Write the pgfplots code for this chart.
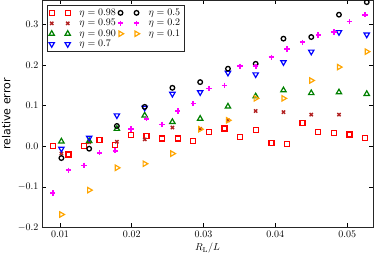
\documentclass[border=0pt]{standalone}
\usepackage{fontspec}
\usepackage{pgfplots}
\pgfplotsset{compat=1.18}
\newfontfamily\dejavu{DejaVu Sans}
\definecolor{mred}{RGB}{255,0,0}
\definecolor{mbrown}{RGB}{178,34,34}
\definecolor{mgreen}{RGB}{0,128,0}
\definecolor{mblue}{RGB}{0,0,255}
\definecolor{mmag}{RGB}{255,0,255}
\definecolor{morange}{RGB}{255,165,0}
\pgfplotsset{
 sq/.style={only marks, mark=square, mark size=2.5pt, color=mred, mark options={color=mred, line width=1.3pt, fill=white}},
 cr/.style={only marks, mark=x, mark size=2.3pt, color=mbrown, mark options={color=mbrown, line width=1.4pt}},
 gt/.style={only marks, mark=triangle, mark size=3.1pt, color=mgreen, mark options={color=mgreen, line width=1.2pt, fill=white}},
 bt/.style={only marks, mark=triangle, mark size=3.1pt, color=mblue, mark options={color=mblue, line width=1.2pt, fill=white, rotate=180}},
 kc/.style={only marks, mark=o, mark size=2.3pt, color=black, mark options={color=black, line width=1.3pt, fill=white}},
 mp/.style={only marks, mark=+, mark size=2.7pt, color=mmag, mark options={color=mmag, line width=1.7pt}},
 ot/.style={only marks, mark=triangle, mark size=3.1pt, color=morange, mark options={color=morange, line width=1.2pt, fill=white, rotate=-90}},
}
\begin{document}
\begin{tikzpicture}
\begin{axis}[
 name=ax,
 width=331pt, height=227pt, scale only axis,
 xmin=0.0075, xmax=0.0536, ymin=-0.2, ymax=0.359,
 xtick={0.01,0.02,0.03,0.04,0.05},
 ytick={-0.2,-0.1,0,0.1,0.2,0.3},
 scaled x ticks=false, scaled y ticks=false,
 xticklabel style={/pgf/number format/.cd, fixed, fixed zerofill, precision=2},
 yticklabel style={/pgf/number format/.cd, fixed, fixed zerofill, precision=1},
 tick align=inside, xtick pos=both, ytick pos=both,
 major tick length=4pt,
 every tick/.style={black, line width=0.6pt},
 axis line style={black!85, line width=0.8pt},
 clip marker paths=true,
 xlabel={$R_{\mathrm{L}}/L$},
 ylabel={{\fontsize{11}{13}\dejavu relative error}},
 xlabel style={at={(axis description cs:0.5,-0.091)}, anchor=center},
 ylabel style={at={(axis description cs:-0.108,0.5)}, anchor=center},
 legend columns=2,
 legend cell align=left,
 legend image code/.code={\draw[#1] plot coordinates {(0pt,0pt) (16pt,0pt)};},
 legend style={at={(axis description cs:0.014,0.978)}, anchor=north west,
   draw=black!85, line width=0.8pt, inner xsep=2pt, inner ysep=1pt,
   row sep=-1.5pt, column sep=0pt},
]
% eta = 0.98
\addplot[sq, forget plot] coordinates {
(0.009000,0.000) (0.011175,-0.020) (0.013350,0.000) (0.015525,0.016) (0.017700,0.004)
(0.019875,0.028) (0.022050,0.025) (0.024225,0.019) (0.026400,0.019) (0.028575,0.013)
(0.030750,0.035) (0.032925,0.044) (0.035100,0.023) (0.037275,0.040) (0.039450,0.008)
(0.041625,0.006) (0.043800,0.058) (0.045975,0.035) (0.048150,0.032) (0.050325,0.029)
(0.052500,0.020)};
% eta = 0.95
\addplot[cr, forget plot] coordinates {
(0.01020,-0.018) (0.01407,0.010) (0.01793,0.011) (0.02180,0.017) (0.02566,0.046)
(0.02953,0.043) (0.03340,0.064) (0.03726,0.087) (0.04113,0.084) (0.04500,0.078)
(0.04886,0.078)};
% eta = 0.90
\addplot[gt, forget plot] coordinates {
(0.01020,0.012) (0.01407,0.013) (0.01793,0.043) (0.02180,0.076) (0.02566,0.060)
(0.02953,0.068) (0.03340,0.098) (0.03726,0.123) (0.04113,0.138) (0.04500,0.131)
(0.04886,0.133) (0.05273,0.129) (0.05420,0.127)};
% eta = 0.7
\addplot[bt, forget plot] coordinates {
(0.01020,-0.006) (0.01407,0.021) (0.01793,0.076) (0.02180,0.095) (0.02566,0.129)
(0.02953,0.133) (0.03340,0.181) (0.03726,0.177) (0.04113,0.207) (0.04500,0.233)
(0.04886,0.281) (0.05273,0.275) (0.05420,0.281)};
% eta = 0.5
\addplot[kc, forget plot] coordinates {
(0.01020,-0.029) (0.01407,-0.006) (0.01793,0.050) (0.02180,0.097) (0.02566,0.144)
(0.02953,0.158) (0.03340,0.191) (0.03726,0.203) (0.04113,0.265) (0.04500,0.269)
(0.04886,0.324) (0.05273,0.355)};
% eta = 0.2
\addplot[mp, forget plot] coordinates {
(0.009000,-0.115) (0.011175,-0.059) (0.013350,-0.047) (0.015525,-0.016) (0.017700,-0.011)
(0.019875,0.043) (0.022050,0.068) (0.024225,0.054) (0.026400,0.087) (0.028575,0.105)
(0.030750,0.142) (0.032925,0.150) (0.035100,0.197) (0.037275,0.197) (0.039450,0.219)
(0.041625,0.240) (0.043800,0.256) (0.045975,0.274) (0.048150,0.281) (0.050325,0.307)
(0.052500,0.324)};
% eta = 0.1
\addplot[ot, forget plot] coordinates {
(0.01020,-0.168) (0.01407,-0.108) (0.01793,-0.053) (0.02180,-0.043) (0.02566,-0.018)
(0.02953,0.042) (0.03340,0.064) (0.03726,0.118) (0.04113,0.118) (0.04500,0.162)
(0.04886,0.195) (0.05273,0.233) (0.05420,0.244)};
\addlegendimage{sq}\addlegendentry{\hspace{7pt}$\eta=0.98$\hspace{8pt}}
\addlegendimage{kc}\addlegendentry{\hspace{7pt}$\eta=0.5$\hspace{3pt}}
\addlegendimage{cr}\addlegendentry{\hspace{7pt}$\eta=0.95$\hspace{8pt}}
\addlegendimage{mp}\addlegendentry{\hspace{7pt}$\eta=0.2$\hspace{3pt}}
\addlegendimage{gt}\addlegendentry{\hspace{7pt}$\eta=0.90$\hspace{8pt}}
\addlegendimage{ot}\addlegendentry{\hspace{7pt}$\eta=0.1$\hspace{3pt}}
\addlegendimage{bt}\addlegendentry{\hspace{7pt}$\eta=0.7$\hspace{8pt}}
\end{axis}
\pgfresetboundingbox
\path ([xshift=-42pt,yshift=-25.5pt]ax.south west) rectangle ([xshift=1pt,yshift=0.5pt]ax.north east);
\end{tikzpicture}
\end{document}
